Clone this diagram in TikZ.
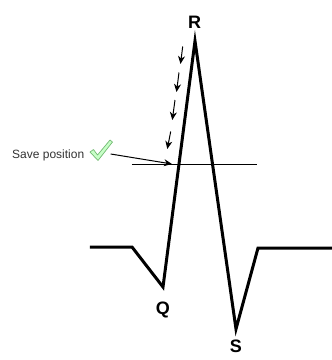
\documentclass[tikz,border=0pt]{standalone}
\usepackage{fontspec}
\setmainfont{Liberation Sans}
\usetikzlibrary{arrows.meta}
\begin{document}
\begin{tikzpicture}[x=1pt,y=-1pt,
  wave/.style={line width=3pt,line join=miter},
  thin/.style={line width=0.8pt},
  arr/.style={line width=1pt,-{Stealth[length=8pt,width=7pt,inset=2.5pt]}},
  lbl/.style={font=\bfseries\fontsize{18}{20}\selectfont,inner sep=0pt}]
\useasboundingbox (0,0) rectangle (332,360);
% waveform points
\coordinate (p0) at (90,247);
\coordinate (p1) at (132,247);
\coordinate (q) at (163,287);
\coordinate (r) at (195,41);
\coordinate (s) at (236,329);
\coordinate (p5) at (258,248);
\coordinate (p6) at (332,248);
\draw[wave] (p0) -- (p1) -- (q) -- (r) -- (s) -- (p5) -- (p6);
% horizontal threshold line
\coordinate (h0) at (132,164);
\coordinate (h1) at (257,164);
\draw[thin] (h0) -- (h1);
% small falling arrows
\coordinate (a1s) at (182.7,46.5); \coordinate (a1e) at (180.5,64);
\coordinate (a2s) at (179,72.5); \coordinate (a2e) at (176.5,92);
\coordinate (a3s) at (175,100); \coordinate (a3e) at (172.3,120);
\coordinate (a4s) at (170.7,131.5); \coordinate (a4e) at (167.3,149);
\draw[arr] (a1s) -- (a1e);
\draw[arr] (a2s) -- (a2e);
\draw[arr] (a3s) -- (a3e);
\draw[arr] (a4s) -- (a4e);
% label
\node[anchor=base west,inner sep=0pt,font=\fontsize{12}{14}\selectfont,text=black!80] (save) at (12,158) {Save position};
\coordinate (ps) at (110.7,154);
\coordinate (pe) at (172,164);
\draw[arr] (ps) -- (pe);
% check mark
\filldraw[fill=green!22!white,draw=green!50!black!55,line width=0.7pt,line join=round]
  (90,152) -- (93.5,149.5) -- (97.5,155) -- (110,140) -- (112.5,142) -- (98,160.5) -- cycle;
% labels
\node[lbl] (R) at (194.5,22) {R};
\node[lbl] (Q) at (163,310) {Q};
\node[lbl] (S) at (236,346) {S};
\end{tikzpicture}
\end{document}
